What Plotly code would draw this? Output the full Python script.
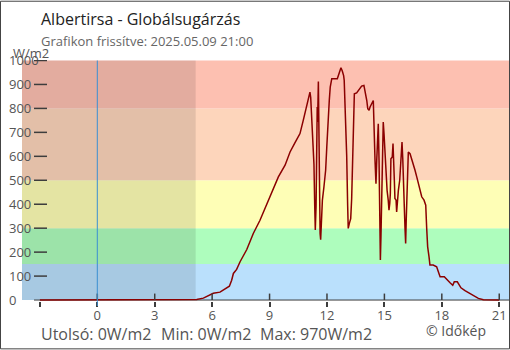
import plotly.graph_objects as go

# ---------------- data ----------------
hours = [-3.0, 4.95, 5.19, 5.54, 5.80, 6.06, 6.41, 6.58, 6.76, 6.90, 7.02, 7.11, 7.28, 7.46, 7.81, 8.15,
         8.50, 9.02, 9.46, 9.81, 10.07, 10.33, 10.59, 10.76, 10.94, 11.08, 11.11, 11.15, 11.20, 11.25,
         11.32, 11.36, 11.39, 11.43, 11.46, 11.49, 11.51, 11.55, 11.57, 11.60, 11.64, 11.67, 11.70,
         11.76, 11.84, 11.93, 11.99, 12.04, 12.12, 12.17, 12.25, 12.54, 12.59, 12.68, 12.73, 12.80,
         12.87, 12.90, 12.96, 13.03, 13.08, 13.11, 13.17, 13.24, 13.29, 13.34, 13.43, 13.55, 13.76,
         13.81, 13.93, 13.99, 14.04, 14.08, 14.13, 14.20, 14.25, 14.37, 14.42, 14.51, 14.56, 14.60,
         14.63, 14.68, 14.72, 14.75, 14.79, 14.82, 14.86, 14.91, 14.94, 14.98, 15.03, 15.07, 15.10,
         15.14, 15.20, 15.24, 15.28, 15.31, 15.34, 15.41, 15.45, 15.49, 15.52, 15.55, 15.61, 15.64,
         15.67, 15.73, 15.80, 15.85, 15.88, 15.92, 15.96, 16.01, 16.04, 16.08, 16.11, 16.14, 16.20,
         16.25, 16.34, 16.43, 16.51, 16.60, 16.69, 16.77, 16.86, 16.95, 17.07, 17.16, 17.21, 17.26,
         17.33, 17.38, 17.55, 17.73, 17.85, 17.91, 18.13, 18.25, 18.43, 18.57, 18.65, 18.81, 18.91,
         19.00, 19.21, 19.44, 19.64, 19.91, 20.17, 20.40, 21.00]
radiation = [0, 0, 2, 8, 17, 28, 33, 42, 49, 58, 83, 111, 128, 160, 211, 278,
             333, 431, 514, 563, 618, 657, 695, 750, 806, 854, 868, 845, 764, 688,
             566, 393, 292, 392, 597, 806, 743, 912, 743, 417, 278, 252, 326,
             417, 472, 542, 639, 736, 833, 889, 924, 924, 937, 965, 970, 956,
             937, 917, 806, 604, 396, 299, 320, 340, 424, 604, 861, 865, 886,
             893, 896, 875, 857, 833, 799, 792, 806, 826, 833, 583, 486, 583,
             694, 736, 583, 312, 167, 264, 417, 583, 743, 694, 604, 590, 500,
             458, 417, 375, 403, 444, 590, 597, 653, 590, 500, 424, 417, 368,
             403, 458, 500, 597, 646, 660, 590, 500, 389, 292, 236, 333, 479,
             618, 611, 590, 569, 542, 514, 486, 458, 431, 417, 396, 299, 222,
             181, 146, 146, 139, 111, 97, 97, 86, 72, 62, 76, 76, 62,
             51, 39, 28, 17, 7, 1, 0, 0]

band_bounds = [0, 150, 300, 500, 800, 1000]
band_colors = ["#bae0fc", "#aefdbd", "#fefeb6", "#fdd5bb", "#fdc0b1"]
x_tickvals = [-3, 0, 3, 6, 9, 12, 15, 18, 21]
x_ticktext = ["", "0", "3", "6", "9", "12", "15", "18", "21"]
y_tickvals = [0, 100, 200, 300, 400, 500, 600, 700, 800, 900, 1000]
y_ticktext = ["0", "100", "200", "300", "400", "500", "600", "700", "800", "900", "1000"]
sunrise_hour = 5.14
title = "Albertirsa - Globálsugárzás"
subtitle = "Grafikon frissítve: 2025.05.09 21:00"
footer_parts = ["Utolsó: 0W/m2", "Min: 0W/m2", "Max: 970W/m2"]
credit = "© Időkép"
unit = "W/m2"

# ---------------- geometry ----------------
W, H = 510, 350
L, R = 4, 510          # plot area in px
T, B = 59.5, 301.46
X0PX, XSCALE = 97.3, 19.14     # px of hour 0, px per hour
Y0PX, YSCALE = 300.5, 0.2405   # px of 0 W/m2, px per unit


def hour_at(px):
    return (px - X0PX) / XSCALE


def value_at(py):
    return (Y0PX - py) / YSCALE


def fx(px):
    return (px - L) / (R - L)


def fy(py):
    return (B - py) / (B - T)


x_range = [hour_at(L), hour_at(R)]
y_range = [value_at(B), value_at(T)]
band_left = hour_at(22)

FONT = "Open Sans"
GREY = "#555555"
TICKC = "#3d3d3d"

fig = go.Figure()
fig.add_trace(go.Scatter(x=hours, y=radiation, mode="lines",
                         line=dict(color="#8b0000", width=1.5),
                         hoverinfo="skip", showlegend=False))

shapes = []
for i, c in enumerate(band_colors):
    shapes.append(dict(type="rect", xref="x", yref="y", x0=band_left, x1=x_range[1],
                       y0=band_bounds[i], y1=band_bounds[i + 1], fillcolor=c,
                       line=dict(width=0), layer="below"))
shapes.append(dict(type="rect", xref="x", yref="y", x0=band_left, x1=sunrise_hour,
                   y0=band_bounds[0], y1=band_bounds[-1], fillcolor="rgba(0,0,0,0.1)",
                   line=dict(width=0), layer="below"))
# x axis baseline
shapes.append(dict(type="line", xref="x", yref="y", x0=hour_at(34), x1=x_range[1],
                   y0=0, y1=0, line=dict(color=TICKC, width=1), layer="below"))
# y tick marks (drawn over the bands, as in the original)
for v in y_tickvals[1:]:
    shapes.append(dict(type="line", xref="x", yref="y", x0=hour_at(34), x1=hour_at(47),
                       y0=v, y1=v, line=dict(color=TICKC, width=1.5), layer="above"))
# upper half of the crossing x tick marks
for v in x_tickvals[1:]:
    shapes.append(dict(type="line", xref="x", yref="y", x0=v, x1=v,
                       y0=0, y1=value_at(294), line=dict(color=TICKC, width=1.5), layer="above"))
# midnight marker
shapes.append(dict(type="line", xref="x", yref="paper", x0=0, x1=0,
                   y0=fy(306.5), y1=fy(60), line=dict(color="#3a8fd3", width=1), layer="above"))
# outer frame
shapes.append(dict(type="rect", xref="paper", yref="paper", x0=fx(0.5), x1=fx(509.5),
                   y0=fy(349.5), y1=fy(0.5), line=dict(color="#444444", width=1),
                   fillcolor="rgba(0,0,0,0)"))

annotations = [
    dict(text=title, x=fx(40), y=fy(18.4), xanchor="left", yanchor="middle",
         font=dict(size=16, color="#222222", family=FONT)),
    dict(text=subtitle, x=fx(40), y=fy(40.5), xanchor="left", yanchor="middle",
         font=dict(size=13, color="#666666", family=FONT)),
    dict(text=unit, x=fx(12), y=fy(52.2), xanchor="left", yanchor="middle",
         font=dict(size=13, color=GREY, family=FONT)),
    dict(text=footer_parts[0], x=fx(40), y=fy(334.4), xanchor="left", yanchor="middle",
         font=dict(size=16, color=GREY, family=FONT)),
    dict(text=footer_parts[1], x=fx(160), y=fy(334.4), xanchor="left", yanchor="middle",
         font=dict(size=16, color=GREY, family=FONT)),
    dict(text=footer_parts[2], x=fx(259), y=fy(334.4), xanchor="left", yanchor="middle",
         font=dict(size=16, color=GREY, family=FONT)),
    dict(text=credit, x=fx(425), y=fy(331), xanchor="left", yanchor="middle",
         font=dict(size=14, color=GREY, family=FONT)),
]
for a in annotations:
    a.update(xref="paper", yref="paper", showarrow=False, borderpad=0)

fig.update_layout(
    width=W, height=H,
    margin=dict(l=L, r=W - R, t=T, b=H - B, pad=0),
    paper_bgcolor="white", plot_bgcolor="white",
    font=dict(family=FONT, size=13, color=GREY),
    shapes=shapes, annotations=annotations, showlegend=False,
    xaxis=dict(range=x_range, showgrid=False, zeroline=False, showline=False,
               tickmode="array", tickvals=x_tickvals, ticktext=x_ticktext,
               ticks="outside", ticklen=5, tickwidth=1.5, tickcolor=TICKC,
               ticklabelstandoff=-3,
               tickfont=dict(size=13, color=GREY, family=FONT), fixedrange=True),
    yaxis=dict(range=y_range, showgrid=False, zeroline=False, showline=False,
               tickmode="array", tickvals=y_tickvals, ticktext=y_ticktext,
               ticks="", ticklabelposition="inside", ticklabeloverflow="allow",
               ticklabelstandoff=2,
               tickfont=dict(size=13, color=GREY, family=FONT), fixedrange=True),
)

fig.write_html("out.html", config={"displayModeBar": False})
